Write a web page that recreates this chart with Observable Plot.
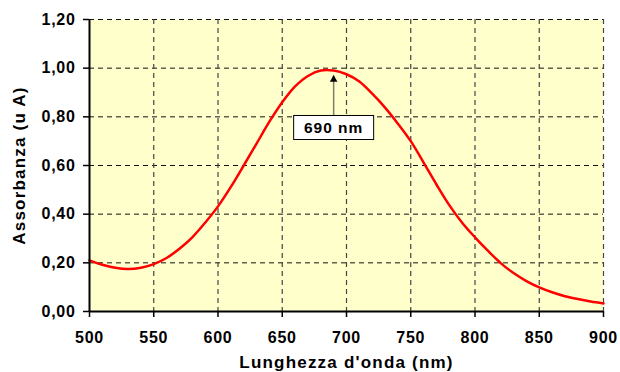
<!DOCTYPE html>
<html><head><meta charset="utf-8">
<script src="https://cdn.jsdelivr.net/npm/d3@7"></script>
<script src="https://cdn.jsdelivr.net/npm/@observablehq/plot@0.6"></script>
<style>
body{margin:0;background:#fff;}
#chart svg{font-family:"Liberation Sans",Arial,sans-serif;overflow:visible;}
</style></head><body><div id="chart"></div>
<script>
const wavelengths = [500,510,520,530,540,550,560,570,580,590,600,610,620,630,640,650,660,670,680,690,700,710,720,730,740,750,760,770,780,790,800,810,820,830,840,850,860,870,880,890,900];
const absorbance = [0.210,0.192,0.180,0.175,0.180,0.195,0.220,0.258,0.305,0.365,0.432,0.512,0.600,0.690,0.780,0.860,0.925,0.968,0.990,0.990,0.975,0.945,0.895,0.838,0.772,0.700,0.612,0.522,0.437,0.365,0.305,0.250,0.199,0.158,0.125,0.099,0.079,0.063,0.051,0.041,0.033];
const xTicks = [500,550,600,650,700,750,800,850,900];
const yTicks = [0,0.2,0.4,0.6,0.8,1.0,1.2];
const xTitle = "Lunghezza d'onda (nm)";
const yTitle = "Assorbanza (u A)";
const peakLabel = ["690 nm"];
const peakX = [690];
const peakTipY = [0.97];
const peakBoxY = [0.754];

const data = wavelengths.map((w, i) => ({w, a: absorbance[i]}));
const fmtY = d => d3.format(".2f")(d).replace(".", ",");
const ann = peakX.map((x, i) => ({x, tip: peakTipY[i], box: peakBoxY[i], label: peakLabel[i]}));

const chart = Plot.plot({
  width: 620, height: 372,
  marginTop: 19, marginRight: 17, marginBottom: 61, marginLeft: 89,
  x: {domain: [500, 900]},
  y: {domain: [0, 1.2]},
  style: {fontFamily: '"Liberation Sans", Arial, sans-serif', color: "#000", background: "#fff"},
  marks: [
    Plot.frame({fill: "#FFFFCC", stroke: "none"}),
    Plot.gridY(yTicks.filter(d => d > 0), {stroke: "#111", strokeOpacity: 1, strokeWidth: 1, strokeDasharray: "5,4"}),
    Plot.gridX(xTicks.filter(d => d > 500), {stroke: "#444", strokeOpacity: 1, strokeWidth: 1.2, strokeDasharray: "5,4"}),
    Plot.line(data, {x: "w", y: "a", stroke: "#ff0000", strokeWidth: 2.5, curve: "catmull-rom"}),
    Plot.ruleX([500], {stroke: "#000", strokeWidth: 2}),
    Plot.ruleY([0], {stroke: "#000", strokeWidth: 2}),
    Plot.axisY(yTicks, {tickSize: 6, tickPadding: 8, tickFormat: fmtY, fontSize: 16, fontWeight: "bold", stroke: "#000", strokeWidth: 1.5, fill: "#000", label: null}),
    Plot.axisX(xTicks, {tickSize: 6, tickPadding: 14.5, tickFormat: d => String(d), fontSize: 16, fontWeight: "bold", stroke: "#000", strokeWidth: 1.5, fill: "#000", label: null}),
    Plot.text([xTitle], {text: d => d, frameAnchor: "bottom", textAnchor: "middle", dy: 51, lineAnchor: "middle", fontSize: 17, fontWeight: "bold", fill: "#000"}),
    Plot.text([yTitle], {text: d => d, frameAnchor: "left", textAnchor: "middle", dx: -70, rotate: -90, lineAnchor: "middle", fontSize: 17, fontWeight: "bold", fill: "#000"}),
    Plot.link(ann, {x1: "x", x2: "x", y1: "box", y2: "tip", stroke: "#7f7f66", strokeWidth: 1.5}),
    Plot.dot(ann, {x: "x", y: "tip", symbol: "triangle", r: 2.8, fill: "#000", stroke: "none", dy: 4}),
    Plot.text(ann, {x: "x", y: "box", text: "label", fontSize: 15.5, fontWeight: "bold", fill: "#000"})
  ]
});
document.getElementById("chart").appendChild(chart);
chart.querySelectorAll('text').forEach(t => {
  const s = t.textContent;
  if (s === xTitle || s === yTitle) t.style.letterSpacing = "1.2px";
  else if (peakLabel.includes(s)) t.style.letterSpacing = "1px";
  else t.style.letterSpacing = "0.7px";
});
chart.querySelectorAll('text').forEach(t => {
  if (!peakLabel.includes(t.textContent)) return;
  const b = t.getBBox();
  const cx = b.x + b.width / 2, cy = b.y + b.height / 2;
  const r = document.createElementNS("http://www.w3.org/2000/svg", "rect");
  r.setAttribute("x", cx - 40); r.setAttribute("y", cy - 12);
  r.setAttribute("width", 80); r.setAttribute("height", 24);
  r.setAttribute("fill", "#fff"); r.setAttribute("stroke", "#000"); r.setAttribute("stroke-width", 1);
  if (t.getAttribute("transform")) r.setAttribute("transform", t.getAttribute("transform"));
  t.parentNode.insertBefore(r, t);
});
</script></body></html>
